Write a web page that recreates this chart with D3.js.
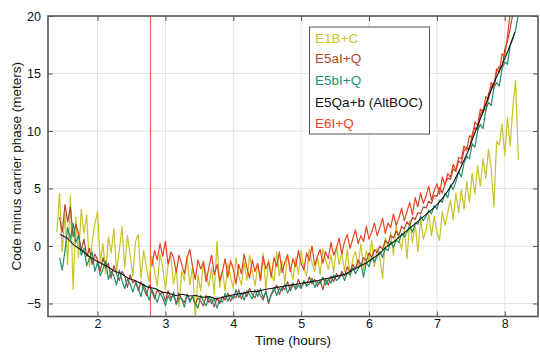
<!DOCTYPE html>
<html>
<head>
<meta charset="utf-8">
<script src="https://cdn.jsdelivr.net/npm/d3@7"></script>
<style>
  html, body { margin: 0; padding: 0; background: #fff; }
  svg { display: block; font-family: "Liberation Sans", Arial, Helvetica, sans-serif; }
</style>
</head>
<body>
<svg id="chart" width="540" height="355"></svg>
<script>
// ---------------- data ----------------
const xTicks = [2, 3, 4, 5, 6, 7, 8];
const yTicks = [-5, 0, 5, 10, 15, 20];
const xDomain = [1.27, 8.49];
const yDomain = [-6.13, 20];
const sampleStep = 0.04;      // hours between samples of the noisy series
const blackStep = 0.1;        // hours between samples of the AltBOC series
const markerTime = 2.78;      // vertical red marker (start of E6I+Q)

const seriesNames = ["E1B+C", "E5aI+Q", "E5bI+Q", "E5Qa+b (AltBOC)", "E6I+Q"];
const seriesColors = ["#c8c326", "#b5432b", "#1f8f6e", "#111111", "#e8421e"];

// E1B+C, starts 1.40 h
const e1bcStart = 1.40;
const e1bc = [
  1.2,4.6,-0.5,2.8,-1.6,4.4,-3.8,2.5,-1.0,3.2,
  1.1,2.7,-1.8,0.4,1.9,3.0,-1.4,0.2,-2.4,0.8,
  -0.6,1.5,-2.2,-0.4,1.7,-1.9,0.9,-0.8,-2.6,0.4,
  1.0,-2.8,-0.4,-1.9,-3.1,-0.9,-2.2,-3.5,-0.7,-1.8,
  -3.8,-1.6,-0.8,-3.3,-1.9,-5.3,-2.2,-3.0,-0.9,-3.4,
  -1.8,-6.1,-2.5,-3.9,-1.3,-2.4,-3.5,-1.9,-4.2,0.4,
  -3.6,-2.1,-3.9,-1.5,-2.7,-3.7,-1.0,-2.6,-3.4,-1.4,
  -3.0,-0.8,-2.2,-3.5,-1.6,-2.9,-0.6,-3.8,-1.2,-2.4,
  -3.1,-0.5,-2.6,-1.3,-3.2,-0.7,-2.0,-2.9,-1.0,-2.5,
  -0.4,-1.9,-2.6,-0.3,-1.5,-2.2,-0.9,-2.5,-0.2,-1.2,
  -2.0,-0.8,-2.3,0.0,-1.6,-0.6,-2.2,-0.3,-2.7,-1.1,
  -0.5,-1.8,0.2,-2.1,-0.4,-1.4,0.5,-1.8,-0.2,-1.0,
  -2.8,0.7,-0.1,1.2,-0.8,1.8,0.6,-0.3,1.5,-1.1,
  2.2,0.3,1.9,-0.5,2.4,0.6,1.4,2.8,0.9,2.6,
  1.2,0.5,3.0,1.8,2.9,4.0,2.3,4.6,2.9,4.9,
  3.2,5.6,3.8,6.3,4.5,7.0,5.2,7.6,5.9,8.4,
  6.8,3.4,9.1,8.8,10.6,7.9,11.2,8.7,12.1,14.4,
  7.5];

// E5aI+Q, starts 1.44 h
const e5aStart = 1.44;
const e5a = [
  2.5,1.2,3.6,2.1,3.4,0.8,1.9,1.1,-0.4,0.6,
  -0.9,-0.2,-1.6,-0.7,-1.2,-2.2,-1.0,-1.9,-1.5,-2.8,
  -1.7,-2.4,-3.0,-2.2,-2.6,-3.6,-2.5,-3.2,-3.0,-3.9,
  -3.1,-3.7,-4.3,-3.4,-3.9,-4.6,-3.8,-4.2,-4.0,-4.8,
  -3.9,-4.5,-4.3,-5.0,-4.1,-4.6,-4.9,-4.2,-4.7,-4.4,
  -5.1,-4.5,-4.8,-5.2,-4.3,-4.9,-4.6,-5.3,-4.5,-5.0,
  -4.4,-4.7,-4.1,-4.8,-4.3,-4.5,-3.8,-4.6,-4.0,-4.4,
  -3.7,-4.2,-4.5,-3.8,-4.3,-4.7,-3.9,-5.0,-4.2,-3.9,
  -3.4,-4.2,-3.6,-3.8,-3.1,-3.9,-3.4,-3.6,-2.9,-3.6,
  -3.2,-3.4,-2.7,-3.3,-2.9,-3.5,-3.0,-3.8,-2.9,-3.4,
  -2.6,-3.1,-2.4,-2.8,-2.2,-2.6,-1.8,-2.3,-1.6,-2.0,
  -1.2,-1.7,-1.0,-1.3,-0.6,-1.0,-0.3,-0.6,0.0,-0.3,
  0.5,0.2,0.9,0.7,1.3,0.9,1.7,1.5,2.1,1.8,
  2.5,2.3,2.9,2.8,3.4,3.3,3.9,3.7,4.4,4.3,
  5.1,4.6,5.4,5.9,5.8,6.7,6.5,7.4,7.2,8.3,
  8.6,8.4,9.7,10.3,10.1,11.4,11.9,11.8,13.2,13.9,
  13.7,15.2,15.6,15.5,17.1,17.8,18.9,20.2];

// E5bI+Q, starts 1.44 h
const e5bStart = 1.44;
const e5b = [
  -1.0,-2.1,-0.4,1.6,0.6,2.0,0.3,0.9,-0.8,-0.2,
  -1.7,-1.1,-0.5,-2.2,-1.4,-2.6,-2.0,-1.3,-2.9,-2.2,
  -2.6,-3.4,-2.1,-3.0,-3.7,-2.9,-3.3,-4.0,-3.2,-3.6,
  -4.4,-3.3,-4.0,-4.7,-3.8,-4.3,-4.9,-4.1,-4.5,-5.2,
  -4.3,-4.8,-4.0,-5.1,-4.5,-4.6,-5.3,-4.2,-4.9,-4.4,
  -5.0,-5.4,-4.3,-4.8,-5.2,-4.4,-5.0,-4.6,-5.4,-4.7,
  -4.9,-4.1,-4.8,-4.3,-4.6,-3.8,-4.5,-4.1,-4.7,-3.9,
  -4.2,-4.6,-3.8,-4.4,-3.7,-4.5,-4.0,-4.9,-4.2,-3.6,
  -4.3,-3.7,-3.9,-3.3,-4.1,-3.6,-3.2,-3.8,-3.4,-3.7,
  -3.0,-3.5,-3.3,-2.8,-3.6,-3.1,-3.3,-2.7,-3.4,-2.9,
  -3.2,-2.5,-3.0,-2.8,-2.4,-3.0,-2.3,-2.5,-1.9,-2.4,
  -2.0,-1.5,-2.7,-1.4,-1.8,-1.0,-1.4,-0.9,-0.5,-1.0,
  -0.2,-0.4,0.4,-0.1,0.5,0.3,1.1,0.8,1.2,1.8,
  1.2,2.0,1.9,2.6,2.2,2.6,3.1,2.8,3.5,3.2,
  4.0,3.8,4.6,4.2,5.3,4.9,5.6,6.5,6.0,7.2,
  7.8,7.6,8.9,8.6,10.0,10.6,10.2,11.8,12.5,12.2,
  13.8,14.2,13.9,15.4,16.0,15.8,17.4,18.0,18.8,20.1];

// E5Qa+b (AltBOC), starts 1.45 h
const altbocStart = 1.45;
const altboc = [
  1.0,0.7,0.1,-0.3,-0.8,-1.2,-1.5,-1.8,-2.2,-2.4,
  -2.8,-3.0,-3.3,-3.6,-3.7,-4.0,-4.1,-4.3,-4.2,-4.35,
  -4.3,-4.45,-4.4,-4.6,-4.45,-4.3,-4.2,-4.1,-3.95,-3.95,
  -3.8,-3.7,-3.6,-3.5,-3.4,-3.3,-3.2,-3.1,-3.0,-2.85,
  -2.75,-2.6,-2.45,-2.1,-1.8,-1.5,-1.1,-0.7,-0.1,0.3,
  0.8,1.3,1.8,2.3,2.8,3.3,3.9,4.7,5.6,6.8,
  8.1,9.7,11.2,12.8,14.3,15.6,17.0,18.6];

// E6I+Q, starts 2.80 h
const e6Start = 2.80;
const e6 = [
  -1.8,-0.4,-1.2,0.2,-0.9,0.4,-1.6,-0.5,-1.0,-2.3,
  -0.8,-1.6,-2.4,-1.0,-0.3,-1.8,-2.9,-1.2,-2.0,-1.4,
  -3.1,-1.9,-0.8,-2.5,-1.6,-3.0,-2.2,-1.1,-2.7,-1.3,
  -2.0,-3.3,-1.6,-2.4,-0.7,-1.9,-2.8,-1.2,-2.2,-1.5,
  -3.0,-0.9,-2.0,-1.4,-2.7,-1.0,-1.8,-0.5,-2.3,-1.4,
  -0.8,-2.2,-1.1,-1.8,-0.4,-1.5,-2.1,-0.6,-1.3,0.0,
  -1.7,-0.9,-0.3,-1.5,-0.5,-1.1,0.3,-0.8,-0.2,0.7,
  -0.7,0.4,1.0,-0.2,0.6,1.4,0.2,0.9,0.4,1.7,
  0.6,1.2,2.0,0.9,1.6,2.4,1.1,2.0,1.6,2.8,
  1.8,2.4,3.3,2.2,3.0,3.8,2.7,4.2,3.4,4.6,
  3.7,4.3,5.2,4.0,4.8,5.4,4.5,6.0,5.3,6.3,
  6.0,7.1,6.6,7.7,7.6,8.7,8.3,9.6,9.4,10.8,
  10.5,11.9,11.6,13.0,12.7,14.2,13.9,15.4,15.1,16.7,
  16.5,18.2,20.3];

// ---------------- layout ----------------
const plot = { left: 48, right: 538, top: 16, bottom: 316.5 };
const svg = d3.select("#chart");

const x = d3.scaleLinear().domain(xDomain).range([plot.left, plot.right]);
const y = d3.scaleLinear().domain(yDomain).range([plot.bottom, plot.top]);

const toPoints = (start, step, vals) => vals.map((v, i) => [start + i * step, v]);
const seriesData = [
  toPoints(e1bcStart, sampleStep, e1bc),
  toPoints(e5aStart, sampleStep, e5a),
  toPoints(e5bStart, sampleStep, e5b),
  toPoints(altbocStart, blackStep, altboc),
  toPoints(e6Start, sampleStep, e6)
];

// grid
const grid = svg.append("g").attr("stroke", "#e2e2e2").attr("stroke-width", 1);
grid.selectAll("line.gx").data(xTicks).join("line")
  .attr("x1", d => x(d)).attr("x2", d => x(d))
  .attr("y1", plot.top).attr("y2", plot.bottom);
grid.selectAll("line.gy").data(yTicks).join("line")
  .attr("x1", plot.left).attr("x2", plot.right)
  .attr("y1", d => y(d)).attr("y2", d => y(d));

// clip
svg.append("clipPath").attr("id", "clip").append("rect")
  .attr("x", plot.left).attr("y", plot.top)
  .attr("width", plot.right - plot.left).attr("height", plot.bottom - plot.top);

const gLines = svg.append("g").attr("clip-path", "url(#clip)");

// marker line
gLines.append("line")
  .attr("x1", x(markerTime)).attr("x2", x(markerTime))
  .attr("y1", plot.top).attr("y2", plot.bottom)
  .attr("stroke", "#f0654a").attr("stroke-width", 1.2);

const line = d3.line().x(d => x(d[0])).y(d => y(d[1]));
const drawOrder = [0, 1, 2, 4, 3];
drawOrder.forEach(k => {
  gLines.append("path")
    .datum(seriesData[k])
    .attr("fill", "none")
    .attr("stroke", seriesColors[k])
    .attr("stroke-width", k === 3 ? 1.1 : 1.2)
    .attr("stroke-linejoin", "round")
    .attr("d", line);
});

// axes (ticks inward on all sides)
const tickLen = 5;
const axisColor = "#555";
const axB = d3.axisBottom(x).tickValues(xTicks).tickSize(-tickLen).tickPadding(2.5).tickFormat(d3.format("d"));
const axT = d3.axisTop(x).tickValues(xTicks).tickSize(-tickLen).tickFormat("");
const axL = d3.axisLeft(y).tickValues(yTicks).tickSize(-tickLen).tickPadding(7).tickFormat(d3.format("d"));
const axR = d3.axisRight(y).tickValues(yTicks).tickSize(-tickLen).tickFormat("");

function styleAxis(g) {
  g.select(".domain").remove();
  g.selectAll(".tick line").attr("stroke", axisColor).attr("stroke-width", 1);
  g.selectAll(".tick text").attr("fill", "#111").style("font-size", "12.5px")
    .style("font-family", '"Liberation Sans", Arial, sans-serif');
}
svg.append("g").attr("transform", `translate(0,${plot.bottom})`).call(axB).call(styleAxis);
svg.append("g").attr("transform", `translate(0,${plot.top})`).call(axT).call(styleAxis);
svg.append("g").attr("transform", `translate(${plot.left},0)`).call(axL).call(styleAxis);
svg.append("g").attr("transform", `translate(${plot.right},0)`).call(axR).call(styleAxis);

// frame
svg.append("rect")
  .attr("x", plot.left).attr("y", plot.top)
  .attr("width", plot.right - plot.left).attr("height", plot.bottom - plot.top)
  .attr("fill", "none").attr("stroke", axisColor).attr("stroke-width", 1.6);

// axis titles
svg.append("text")
  .attr("x", (plot.left + plot.right) / 2).attr("y", 345)
  .attr("text-anchor", "middle").style("font-size", "13.5px").attr("fill", "#111")
  .text("Time (hours)");
svg.append("text")
  .attr("transform", `translate(21,${(plot.top + plot.bottom) / 2}) rotate(-90)`)
  .attr("text-anchor", "middle").style("font-size", "13.5px").attr("fill", "#111")
  .text("Code minus carrier phase (meters)");

// legend
const legend = svg.append("g");
legend.append("rect")
  .attr("x", 309.5).attr("y", 27).attr("width", 120).attr("height", 107)
  .attr("fill", "#fff").attr("stroke", "#555").attr("stroke-width", 1);
const legendY = [43, 63, 85, 107, 128];
legend.selectAll("text").data(seriesNames).join("text")
  .attr("x", 315).attr("y", (d, i) => legendY[i])
  .attr("fill", (d, i) => seriesColors[i])
  .style("font-size", "13.5px")
  .text(d => d);
</script>
</body>
</html>
